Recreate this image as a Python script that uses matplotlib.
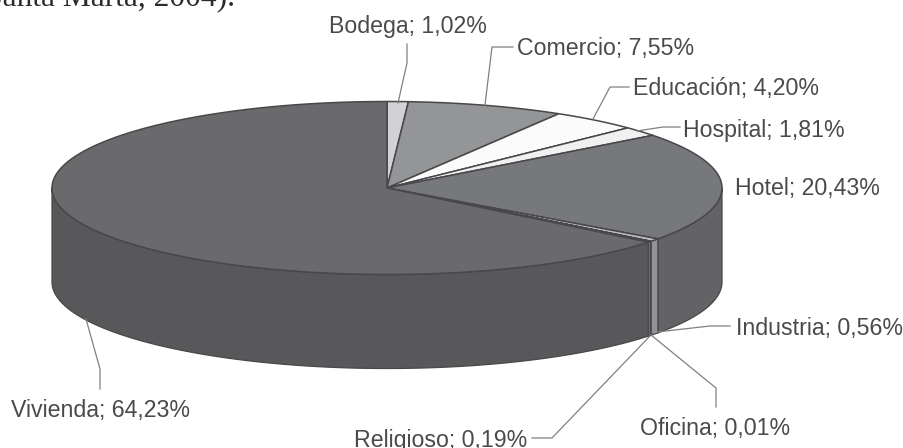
import matplotlib
matplotlib.use('Agg')
import matplotlib.pyplot as plt
from matplotlib.patches import Polygon
import numpy as np

categories = ['Bodega', 'Comercio', 'Educación', 'Hospital', 'Hotel',
              'Industria', 'Oficina', 'Religioso', 'Vivienda']
values = [1.02, 7.55, 4.20, 1.81, 20.43, 0.56, 0.01, 0.19, 64.23]
value_labels = ['1,02%', '7,55%', '4,20%', '1,81%', '20,43%',
                '0,56%', '0,01%', '0,19%', '64,23%']

top_colors = ['#d1d2d4', '#949597', '#fbfbfb', '#f0f0f1', '#77787b',
              '#bcbdbf', '#e6e7e8', '#f1f1f2', '#6a6a6c']
side_colors = ['#a7a8aa', '#76777a', '#c9c9ca', '#c0c0c1', '#636365',
               '#939395', '#b8b9ba', '#6d6e70', '#58585a']

cx, cy = 387, 188
rx, ry = 335, 86.5
depth = 94
edge = '#48484a'


def rim(start, end, shift=0):
    t = np.radians(np.linspace(start, end, 200))
    return np.column_stack((cx + rx * np.sin(t), cy - ry * np.cos(t) + shift))


fig = plt.figure(figsize=(9.04, 4.48), dpi=100)
ax = fig.add_axes([0, 0, 1, 1])
ax.set_xlim(0, 904)
ax.set_ylim(448, 0)
ax.axis('off')

ends = np.cumsum(values) * 3.6
starts = ends - np.array(values) * 3.6

# side wall, only the front half of the pie shows
for s, e, c in zip(starts, ends, side_colors):
    a, b = max(s, 90), min(e, 270)
    if a >= b:
        continue
    pts = np.vstack((rim(a, b), rim(a, b, depth)[::-1]))
    ax.add_patch(Polygon(pts, closed=True, fc=c, ec=edge, lw=0.9, joinstyle='round'))

# top face
for s, e, c in zip(starts, ends, top_colors):
    pts = np.vstack(([[cx, cy]], rim(s, e)))
    ax.add_patch(Polygon(pts, closed=True, fc=c, ec=edge, lw=1.1, joinstyle='round'))

# leader lines
leaders = [
    [(398, 103), (407, 63), (407, 44)],
    [(485, 105), (492, 47), (513, 47)],
    [(593, 119), (610, 87), (629, 87)],
    [(637, 131), (663, 127), (680, 127)],
    [(657, 332), (710, 326), (730, 326)],
    [(651, 335), (716, 388), (716, 407)],
    [(650, 336), (552, 438), (532, 438)],
    [(86, 319), (100, 369), (100, 389)],
]
for line in leaders:
    xs, ys = zip(*line)
    ax.plot(xs, ys, color='#808082', lw=0.9)

# labels
label_pos = [(329, 26), (517, 49), (633, 89), (683, 130), (735, 189),
             (736, 329), (640, 429), (354, 440), (11, 411)]
for name, val, (x, y) in zip(categories, value_labels, label_pos):
    ax.text(x, y, name + '; ' + val, family='Liberation Sans', fontsize=16.7,
            color='#4a4a4c', ha='left', va='center')

# cut off line of the page text above the chart
ax.text(-15, 5, 'Santa Marta, 2004).', family='Liberation Serif', fontsize=22.7,
        color='#2b2b2b', ha='left', va='baseline')

fig.savefig('out.png', dpi=100)
